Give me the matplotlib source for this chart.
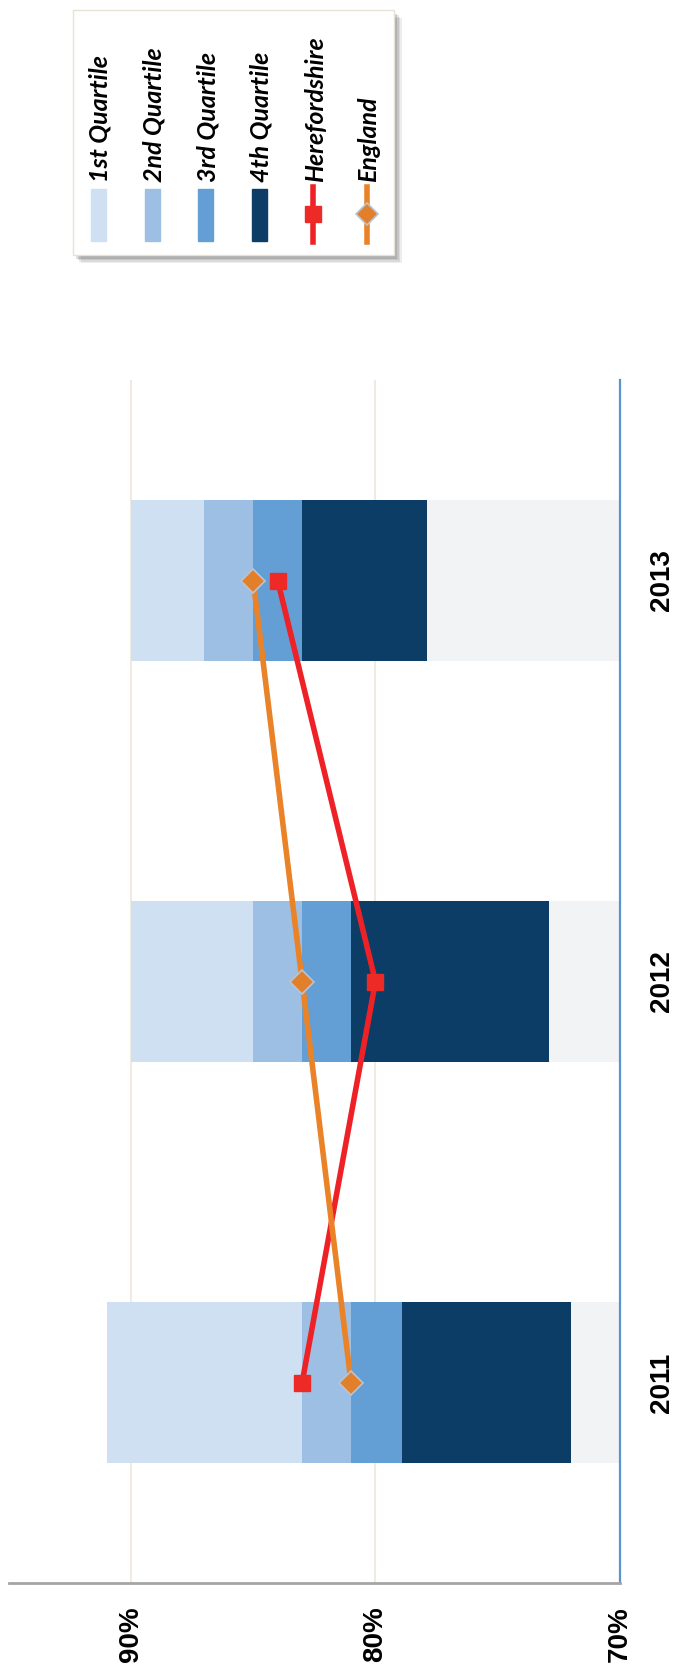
import numpy as np
import matplotlib
matplotlib.use("Agg")
import matplotlib.pyplot as plt
from matplotlib.patches import Rectangle

# data (percent)
years = ["2011", "2012", "2013"]
floor_vals = [72.0, 72.9, 77.9]
q4_top = [78.9, 81.0, 83.0]
q3_top = [81.0, 83.0, 85.0]
q2_top = [83.0, 85.0, 87.0]
q1_top = [91.0, 90.0, 90.0]
hereford = [83.0, 80.0, 84.0]
england = [81.0, 83.0, 85.0]
x_ticks = [90, 80, 70]
x_labels = ["90%", "80%", "70%"]
legend_labels = ["1st Quartile", "2nd Quartile", "3rd Quartile", "4th Quartile",
                 "Herefordshire", "England"]

c_base = "#f2f3f5"
c_q1 = "#cfe0f2"
c_q2 = "#9dbfe4"
c_q3 = "#639fd4"
c_q4 = "#0c3d66"
c_here = "#ee2226"
c_eng = "#ea8328"

W, H = 683, 1675
fig = plt.figure(figsize=(W / 100, H / 100), dpi=100)
ax = fig.add_axes([8.7 / W, (H - 1583) / H, (620 - 8.7) / W, (1583 - 380) / H])

y = np.arange(len(years))
floor_a = np.array(floor_vals)
q4_a, q3_a, q2_a, q1_a = map(np.array, (q4_top, q3_top, q2_top, q1_top))
bh = 0.4
ax.barh(y, floor_a, height=bh, color=c_base, zorder=2)
ax.barh(y, q4_a - floor_a, left=floor_a, height=bh, color=c_q4, zorder=2)
ax.barh(y, q3_a - q4_a, left=q4_a, height=bh, color=c_q3, zorder=2)
ax.barh(y, q2_a - q3_a, left=q3_a, height=bh, color=c_q2, zorder=2)
ax.barh(y, q1_a - q2_a, left=q2_a, height=bh, color=c_q1, zorder=2)

ax.plot(hereford, y, color=c_here, lw=4, marker="s", ms=11,
        mfc="#ee2a26", mec="#ee2a26", zorder=4)
ax.plot(england, y, color=c_eng, lw=4, marker="D", ms=12,
        mfc="#e27f2a", mec="#b9c3d3", mew=1.2, zorder=5)

ax.set_xlim(95, 70)
ax.set_ylim(-0.5, 2.5)
ax.set_xticks(x_ticks)
ax.set_xticklabels(x_labels, rotation=90, fontsize=20, fontweight="bold",
                   family=["Liberation Sans", "DejaVu Sans"])
ax.yaxis.tick_right()
ax.set_yticks(y)
ax.set_yticklabels(years, rotation=90, fontsize=20, fontweight="bold",
                   family=["Liberation Sans", "DejaVu Sans"], va="center")
ax.tick_params(axis="x", length=0, pad=17)
ax.tick_params(axis="y", length=0, pad=21)
ax.xaxis.grid(True, color="#efebe0", lw=1.5, zorder=0)
ax.set_axisbelow(True)
for s in ["left", "top"]:
    ax.spines[s].set_visible(False)
ax.spines["bottom"].set_color("#a5a5a5")
ax.spines["bottom"].set_linewidth(2)
ax.spines["right"].set_color("#5b92d0")
ax.spines["right"].set_linewidth(1.6)

# legend, drawn by hand since its text is rotated
lax = fig.add_axes([0, 0, 1, 1])
lax.set_xlim(0, W)
lax.set_ylim(H, 0)
lax.axis("off")
lax.patch.set_visible(False)

bx, by, bw, bh2 = 72.7, 10, 321, 245
for k, a in enumerate([0.10, 0.12, 0.15, 0.20]):
    off = 8 - k * 1.5
    lax.add_patch(Rectangle((bx + off, by + off), bw, bh2, facecolor="#555555",
                            edgecolor="none", alpha=a))
lax.add_patch(Rectangle((bx, by), bw, bh2, facecolor="white",
                        edgecolor="#e6e2d6", lw=1))

col_x = [98.3 + 53.7 * i for i in range(len(legend_labels))]
for i, cx in enumerate(col_x[:4]):
    lax.add_patch(Rectangle((cx - 7.5, 189), 15, 52,
                            color=[c_q1, c_q2, c_q3, c_q4][i]))
lax.plot([col_x[4]] * 2, [187, 242], color=c_here, lw=4)
lax.plot([col_x[4]], [214], marker="s", ms=11, color="#ee2a26")
lax.plot([col_x[5]] * 2, [187, 242], color=c_eng, lw=4)
lax.plot([col_x[5]], [214], marker="D", ms=11, mfc="#e27f2a", mec="#b9c3d3", mew=1.2)
for cx, lab in zip(col_x, legend_labels):
    lax.text(cx + 2, 182, lab, rotation=90, ha="center", va="bottom",
             fontsize=18, fontweight="bold", fontstyle="italic",
             family=["Lato", "DejaVu Sans"])

fig.savefig("out.png", dpi=100, facecolor="white")
